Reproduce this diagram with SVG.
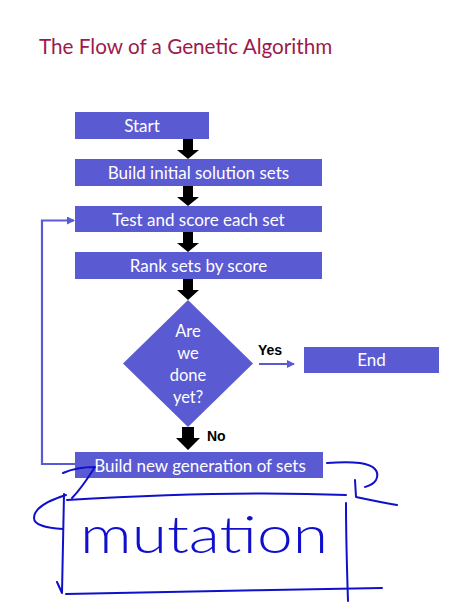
<svg xmlns="http://www.w3.org/2000/svg" width="464" height="603" viewBox="0 0 464 603">
<defs>
<style>
.box{fill:#5a5ad2;}
.lbl{font-family:Lato,"Open Sans","Liberation Sans",sans-serif;font-size:17px;fill:#ffffff;text-anchor:middle;}
.dlbl{font-family:Lato,"Open Sans","Liberation Sans",sans-serif;font-size:16.5px;fill:#ffffff;text-anchor:middle;}
.blk{fill:#000000;}
.conn{fill:none;stroke:#5a5ad2;stroke-width:2.2;}
.edge{font-family:"Liberation Sans",Arial,sans-serif;font-size:14px;font-weight:bold;fill:#000000;}
.pen{fill:none;stroke:#1010cc;stroke-width:2;stroke-linecap:round;stroke-linejoin:round;}
</style>
<marker id="ah" markerWidth="8" markerHeight="8" refX="7" refY="4" orient="auto" markerUnits="userSpaceOnUse">
<path d="M0,0 L8,4 L0,8 z" fill="#5a5ad2"/>
</marker>
</defs>
<rect width="464" height="603" fill="#ffffff"/>
<text x="39" y="54" font-family="Lato,'Open Sans',sans-serif" font-size="20.7" fill="#9c1a4d">The Flow of a Genetic Algorithm</text>

<g id="connectors">
<path class="blk" d="M183,139 h10 v11 h6 l-11,9 l-11,-9 h6 z"/>
<path class="blk" d="M183,186 h10 v11 h6 l-11,9 l-11,-9 h6 z"/>
<path class="blk" d="M183,232 h10 v11 h6 l-11,9 l-11,-9 h6 z"/>
<path class="blk" d="M183,279 h10 v11 h6 l-11,10 l-11,-10 h6 z"/>
<path class="blk" d="M182,427 h12 v11 h6 l-12,12 l-12,-12 h6 z"/>
<path class="conn" marker-end="url(#ah)" d="M259,364 H294"/>
<path class="conn" marker-end="url(#ah)" d="M75,464 H42 V220.5 H74"/>
<text class="edge" x="258" y="355">Yes</text>
<text class="edge" x="207" y="441">No</text>
</g>

<g id="start"><rect class="box" x="75" y="112" width="134" height="27"/><text class="lbl" x="142" y="132">Start</text></g>
<g id="build-initial"><rect class="box" x="75" y="159" width="247" height="27"/><text class="lbl" x="198.5" y="179">Build initial solution sets</text></g>
<g id="test-score"><rect class="box" x="75" y="206" width="247" height="26"/><text class="lbl" x="198.5" y="226">Test and score each set</text></g>
<g id="rank"><rect class="box" x="75" y="252" width="247" height="27"/><text class="lbl" x="198.5" y="272">Rank sets by score</text></g>
<g id="decision"><path class="box" d="M188,300 L253,363.5 L188,427 L123,363.5 z"/>
<text class="dlbl" x="188" y="337">Are</text>
<text class="dlbl" x="188" y="359">we</text>
<text class="dlbl" x="188" y="381">done</text>
<text class="dlbl" x="188" y="403">yet?</text></g>
<g id="end"><rect class="box" x="304" y="347" width="135" height="26"/><text class="lbl" x="371.5" y="366">End</text></g>
<g id="build-new"><rect class="box" x="75" y="452" width="248" height="26"/><text class="lbl" x="200" y="472">Build new generation of sets</text></g>

<g id="annotation">
<path class="pen" d="M63,473 C72,469 85,467 95,467 C88,478 80,490 72,498"/>
<path class="pen" d="M66,495 C50,500 34,508 34,518 C34,526 48,528 63,529"/>
<path class="pen" d="M64,494 L62,593 M57,582 L62,593"/>
<path class="pen" d="M67,500 C150,495 250,491 346,495"/>
<path class="pen" d="M346,503 C346,540 347,570 348,601"/>
<path class="pen" d="M66,594 C150,592 280,590 382,588"/>
<path class="pen" d="M327,463 C340,462 352,462 360,463 C375,465 380,472 376,480 C373,485 368,486 365,487"/>
<path class="pen" d="M355,480 L356,497 C370,500 385,503 397,505"/>
<text x="80" y="553" font-family="Lato,'Liberation Sans',sans-serif" font-weight="300" font-size="52" fill="#1010cc" textLength="248" lengthAdjust="spacingAndGlyphs">mutation</text>
</g>
</svg>
